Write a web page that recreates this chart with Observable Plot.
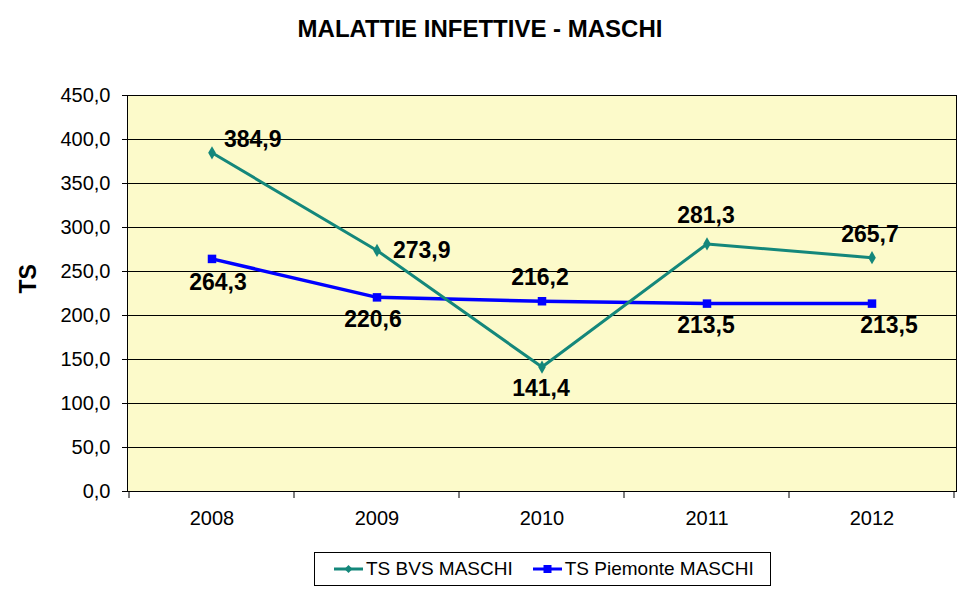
<!DOCTYPE html>
<html>
<head>
<meta charset="utf-8">
<script src="https://cdn.jsdelivr.net/npm/d3@7"></script>
<script src="https://cdn.jsdelivr.net/npm/@observablehq/plot@0.6"></script>
<style>
  body { margin: 0; background: #fff; font-family: "Liberation Sans", Arial, sans-serif; }
  #wrap { width: 967px; height: 590px; position: relative; overflow: hidden; }
  #title { height: 56px; line-height: 58px; text-align: center; font-weight: bold; font-size: 24px; color: #000; padding-right: 7px; box-sizing: border-box; }
  #legend { position: absolute; left: 314px; top: 552px; width: 457px; height: 34px; box-sizing: border-box; border: 1px solid #000; display: flex; align-items: center; font-size: 19px; color: #000; }
  .item { display: flex; align-items: center; }
</style>
</head>
<body>
<div id="wrap">
  <div id="title">MALATTIE INFETTIVE - MASCHI</div>
  <div id="chart"></div>
  <div id="legend"></div>
</div>
<script>
const years = ["2008", "2009", "2010", "2011", "2012"];
const bvsMaschi = [384.9, 273.9, 141.4, 281.3, 265.7];
const piemonteMaschi = [264.3, 220.6, 216.2, 213.5, 213.5];
const yTicks = [0, 50, 100, 150, 200, 250, 300, 350, 400, 450];
const seriesNames = ["TS BVS MASCHI", "TS Piemonte MASCHI"];

const tealColor = "#14877b";
const blueColor = "#0000ff";
const fmt = v => d3.format(".1f")(v).replace(".", ",");

const bvsRows = years.map((y, i) => ({year: y, value: bvsMaschi[i]}));
const pieRows = years.map((y, i) => ({year: y, value: piemonteMaschi[i]}));

// label offsets (dx, dy, anchor) per point
const bvsLabelPlacement = [[12, -13, "start"], [16, 0, "start"], [-1, 22, "middle"], [-1, -28, "middle"], [-2, -23, "middle"]];
const pieLabelPlacement = [[6, 24, "middle"], [-4, 22, "middle"], [-2, -24, "middle"], [-1, 22, "middle"], [17, 22, "middle"]];

const labelMarks = [];
bvsRows.forEach((r, i) => {
  const [dx, dy, ta] = bvsLabelPlacement[i];
  labelMarks.push(Plot.text([r], {x: "year", y: "value", text: d => fmt(d.value), dx, dy, textAnchor: ta, fontSize: 23, fontWeight: "bold", fill: "#000"}));
});
pieRows.forEach((r, i) => {
  const [dx, dy, ta] = pieLabelPlacement[i];
  labelMarks.push(Plot.text([r], {x: "year", y: "value", text: d => fmt(d.value), dx, dy, textAnchor: ta, fontSize: 23, fontWeight: "bold", fill: "#000"}));
});

const chart = Plot.plot({
  width: 967,
  height: 490,
  marginTop: 39,
  marginBottom: 55,
  marginLeft: 127,
  marginRight: 11,
  style: {fontFamily: "Liberation Sans, Arial, sans-serif", color: "#000", background: "transparent"},
  x: {type: "band", domain: years, padding: 0},
  y: {domain: [0, 450]},
  marks: [
    Plot.frame({fill: "#fcfaca", stroke: "none"}),
    Plot.ruleY(yTicks, {stroke: "#000", strokeWidth: 1}),
    Plot.frame({stroke: "#000", strokeWidth: 1}),
    Plot.axisY({ticks: yTicks, tickFormat: fmt, tickSize: 5, tickPadding: 12, fontSize: 20, label: null}),
    Plot.axisX({tickSize: 0, tickPadding: 19, fontSize: 20, label: null}),
    Plot.text(["TS"], {frameAnchor: "left", dx: -99, rotate: -90, fontSize: 23, fontWeight: "bold", fill: "#000"}),
    Plot.line(pieRows, {x: "year", y: "value", stroke: blueColor, strokeWidth: 3.5}),
    Plot.dot(pieRows, {x: "year", y: "value", symbol: "square", r: 4.8, fill: blueColor, stroke: "none"}),
    Plot.line(bvsRows, {x: "year", y: "value", stroke: tealColor, strokeWidth: 3}),
    Plot.dot(bvsRows, {x: "year", y: "value", symbol: "diamond", r: 4, fill: tealColor, stroke: "none"}),
    ...labelMarks
  ]
});

// x tick marks at category boundaries, using the plot's band scale
const xs = chart.scale("x");
const bounds = years.map(d => xs.apply(d));
bounds.push(xs.apply(years[years.length - 1]) + xs.bandwidth);
const yBottom = 490 - 55;
d3.select(chart).append("g")
  .selectAll("line").data(bounds).join("line")
  .attr("x1", d => d).attr("x2", d => d)
  .attr("y1", yBottom).attr("y2", yBottom + 7)
  .attr("stroke", "#000");

document.getElementById("chart").appendChild(chart);

// legend
const legend = d3.select("#legend");
function legendItem(name, color, shape, marginLeft) {
  const it = legend.append("div").attr("class", "item").style("margin-left", marginLeft + "px");
  const s = it.append("svg").attr("width", 31).attr("height", 14);
  s.append("line").attr("x1", 1).attr("x2", 30).attr("y1", 7).attr("y2", 7).attr("stroke", color).attr("stroke-width", 3);
  if (shape === "diamond") {
    s.append("path").attr("d", "M15.5,3 L19.5,7 L15.5,11 L11.5,7 Z").attr("fill", color);
  } else {
    s.append("rect").attr("x", 11.5).attr("y", 3).attr("width", 8).attr("height", 8).attr("fill", color);
  }
  it.append("span").text(name).style("margin-left", "2px");
}
legendItem(seriesNames[0], tealColor, "diamond", 18);
legendItem(seriesNames[1], blueColor, "square", 19);
</script>
</body>
</html>
